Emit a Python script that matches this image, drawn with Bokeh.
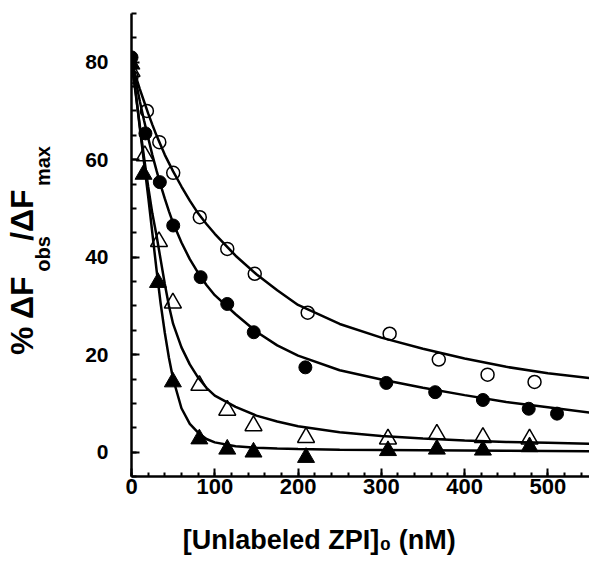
from bokeh.plotting import figure
from bokeh.models import Range1d, SingleIntervalTicker, FixedTicker, LinearAxis
from bokeh.embed import file_html
from bokeh.resources import INLINE

# ---- measured data points ----
oc_x = [0, 18.5, 33.4, 50.1, 82, 115, 148, 211.6, 310, 369, 427.6, 484]
oc_y = [77, 70.0, 63.6, 57.3, 48.2, 41.7, 36.6, 28.6, 24.3, 19.0, 15.9, 14.4]

fc_x = [0, 16.7, 34, 50.1, 83, 115, 146.8, 208.8, 306, 364.7, 422, 477, 511]
fc_y = [81, 65.4, 55.4, 46.5, 35.9, 30.4, 24.6, 17.4, 14.2, 12.3, 10.7, 8.9, 7.9]

ot_x = [0, 16, 33, 49.7, 81.5, 115, 146.5, 209.6, 308, 366.7, 422, 478]
ot_y = [78.1, 60.8, 43.2, 30.6, 13.7, 8.6, 5.4, 3.0, 2.7, 3.7, 3.0, 2.7]

ft_x = [0, 14.5, 31.8, 49.7, 81.5, 115, 146.5, 209.6, 308, 366.7, 422, 478]
ft_y = [79.6, 57.0, 34.8, 14.4, 2.7, 0.6, 0.0, -1.1, 0.3, 0.6, 0.4, 1.1]

# ---- fitted curves ----
cx = [0, 5, 10, 15, 20, 25, 30, 35, 40, 45, 50, 60, 70, 80, 90, 100, 125, 150,
      175, 200, 250, 300, 350, 400, 450, 500, 550]
oc_fit = [80, 77.2, 74.5, 72.0, 69.5, 67.2, 65.0, 63.0, 61.0, 59.3, 57.6, 54.5,
          51.6, 49.0, 46.8, 44.8, 40.3, 36.5, 33.2, 30.2, 26.3, 23.5, 21.2, 19.2,
          17.5, 16.2, 15.2]
fc_fit = [81, 76.3, 72.0, 68.1, 64.5, 61.0, 57.8, 54.8, 52.0, 49.4, 47.0, 43.0,
          39.6, 36.8, 34.3, 32.2, 28.3, 24.7, 21.9, 19.8, 16.8, 14.9, 13.2, 11.7,
          10.3, 9.2, 8.1]
ot_fit = [80, 73.5, 67, 60.5, 54.5, 49, 44.5, 39.5, 34.5, 30.0, 26.3, 21.5, 18,
          15.3, 13.2, 11.6, 9.3, 7.5, 6.3, 5.3, 4.1, 3.3, 2.8, 2.4, 2.1, 1.9, 1.7]
ft_fit = [80, 74, 66.5, 59.5, 52.5, 45, 37.5, 30.5, 24.5, 19.3, 15.0, 9.0, 5.8,
          4.0, 2.7, 2.0, 1.2, 0.9, 0.75, 0.65, 0.5, 0.45, 0.4, 0.35, 0.3, 0.25, 0.2]

x_ticks_interval = 100
y_ticks_interval = 20

FONT = "Liberation Sans"
NB = "\u00a0"

p = figure(width=589, height=564, output_backend="svg", toolbar_location=None,
           x_range=Range1d(0, 550), y_range=Range1d(-5, 90),
           min_border_left=128, min_border_right=0, min_border_top=13,
           min_border_bottom=88)
p.xgrid.visible = False
p.ygrid.visible = False
p.outline_line_color = None
p.background_fill_color = "white"
p.border_fill_color = "white"

xa = p.xaxis[0]
xa.ticker = SingleIntervalTicker(interval=x_ticks_interval, num_minor_ticks=5)
ya = p.yaxis[0]
ya.ticker = SingleIntervalTicker(interval=y_ticks_interval, num_minor_ticks=4)
for ax in (xa, ya):
    ax.axis_line_width = 2.5
    ax.axis_line_color = "black"
    ax.major_tick_line_width = 2
    ax.minor_tick_line_width = 2
    ax.major_tick_line_color = "black"
    ax.minor_tick_line_color = "black"
    ax.major_tick_out = 0
    ax.minor_tick_out = 0
    ax.major_tick_in = 8
    ax.major_label_text_font = FONT
    ax.major_label_text_font_style = "bold"
    ax.major_label_text_color = "black"
    ax.axis_label_text_font = FONT
    ax.axis_label_text_font_style = "bold"
    ax.axis_label_text_color = "black"
xa.minor_tick_in = 4
ya.minor_tick_in = 5
xa.major_label_text_font_size = "22px"
ya.major_label_text_font_size = "21px"
xa.major_label_standoff = 2
ya.major_label_standoff = 23

# x title (subscript 0 as a Unicode subscript digit)
xa.axis_label = "[Unlabeled ZPI]\u2080 (nM)" + NB * 11
xa.axis_label_text_font_size = "27px"
xa.axis_label_standoff = 28

# y title: subscripts on the inner axis label, main text on an outer axis
ya.axis_label = NB * 13 + "obs" + NB * 9 + "max"
ya.axis_label_text_font_size = "20px"
ya.axis_label_standoff = 28

outer = LinearAxis(ticker=FixedTicker(ticks=[]), axis_line_color=None,
                   major_tick_line_color=None, minor_tick_line_color=None,
                   major_tick_in=0, major_tick_out=0, minor_tick_in=0,
                   minor_tick_out=0, major_label_standoff=0,
                   axis_label="% \u0394F" + NB * 4 + "/\u0394F" + NB * 6,
                   axis_label_text_font=FONT, axis_label_text_font_style="bold",
                   axis_label_text_font_size="32px", axis_label_text_color="black",
                   axis_label_standoff=-10)
p.add_layout(outer, "left")

# curves
for fy in (oc_fit, fc_fit, ot_fit, ft_fit):
    p.line(cx, fy, line_color="black", line_width=2.5)

# markers
p.scatter(oc_x, oc_y, marker="circle", size=13, fill_color=None,
          line_color="black", line_width=1.5)
p.scatter(fc_x, fc_y, marker="circle", size=13, fill_color="black",
          line_color="black", line_width=1)
p.scatter(ot_x, ot_y, marker="triangle", size=17, fill_color=None,
          line_color="black", line_width=1.5)
p.scatter(ft_x, ft_y, marker="triangle", size=17, fill_color="black",
          line_color="black", line_width=1)

open("out.html", "w").write(file_html(p, INLINE))
